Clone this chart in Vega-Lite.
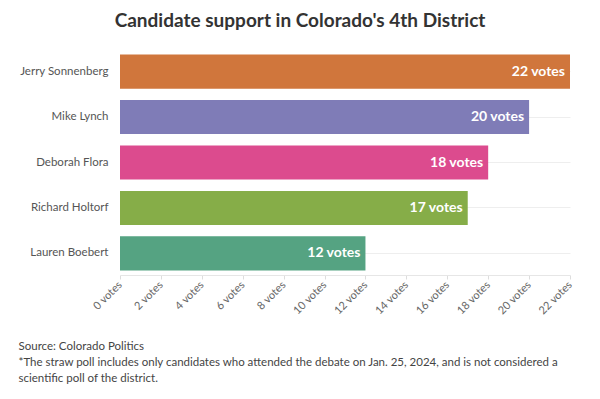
{
  "$schema": "https://vega.github.io/schema/vega-lite/v6.json",
  "autosize": "none",
  "width": 450,
  "height": 225,
  "padding": {"left": 120, "top": 50, "right": 30, "bottom": 124},
  "background": "white",
  "config": {"font": "Lato", "view": {"stroke": null}},
  "title": {
    "text": "Candidate support in Colorado's 4th District",
    "fontSize": 19,
    "fontWeight": "bold",
    "color": "#333333",
    "anchor": "middle",
    "dx": -45,
    "offset": 19
  },
  "data": {
    "values": [
      {"candidate": "Jerry Sonnenberg", "votes": 22, "label": "22 votes"},
      {"candidate": "Mike Lynch", "votes": 20, "label": "20 votes"},
      {"candidate": "Deborah Flora", "votes": 18, "label": "18 votes"},
      {"candidate": "Richard Holtorf", "votes": 17, "label": "17 votes"},
      {"candidate": "Lauren Boebert", "votes": 12, "label": "12 votes"}
    ]
  },
  "encoding": {
    "y": {
      "field": "candidate",
      "type": "nominal",
      "sort": null,
      "scale": {"paddingInner": 0.25, "paddingOuter": 0.1},
      "axis": {
        "title": null,
        "ticks": false,
        "domain": false,
        "labelFontSize": 11.5,
        "labelColor": "#555555",
        "labelPadding": 12,
        "grid": true,
        "bandPosition": 0.5,
        "gridColor": "#eeeeee"
      }
    },
    "x": {
      "field": "votes",
      "type": "quantitative",
      "scale": {"domain": [0, 22], "nice": false},
      "axis": {
        "values": [0, 2, 4, 6, 8, 10, 12, 14, 16, 18, 20, 22],
        "labelExpr": "datum.value + ' votes'",
        "labelAngle": -45,
        "labelAlign": "right",
        "labelBaseline": "middle",
        "labelFontSize": 11,
        "labelColor": "#666666",
        "labelPadding": 4,
        "grid": false,
        "domainColor": "#e6e6e6",
        "tickColor": "#dddddd",
        "tickSize": 4,
        "title": [
          "Source: Colorado Politics",
          "*The straw poll includes only candidates who attended the debate on Jan. 25, 2024, and is not considered a",
          "scientific poll of the district."
        ],
        "titleFontSize": 11.5,
        "titleFontWeight": "normal",
        "titleColor": "#444444",
        "titleAnchor": "start",
        "titleAlign": "left",
        "titleBaseline": "alphabetic",
        "titleX": -102,
        "titleY": 74,
        "titleLineHeight": 16
      }
    }
  },
  "layer": [
    {
      "mark": {"type": "bar"},
      "encoding": {
        "color": {
          "field": "candidate",
          "type": "nominal",
          "scale": {
            "domain": ["Jerry Sonnenberg", "Mike Lynch", "Deborah Flora", "Richard Holtorf", "Lauren Boebert"],
            "range": ["#d0763c", "#7f7cb7", "#dc4b8e", "#86ad48", "#55a382"]
          },
          "legend": null
        }
      }
    },
    {
      "mark": {"type": "text", "align": "right", "dx": -5, "fontSize": 14, "fontWeight": "bold", "color": "white"},
      "encoding": {"text": {"field": "label"}}
    }
  ]
}
